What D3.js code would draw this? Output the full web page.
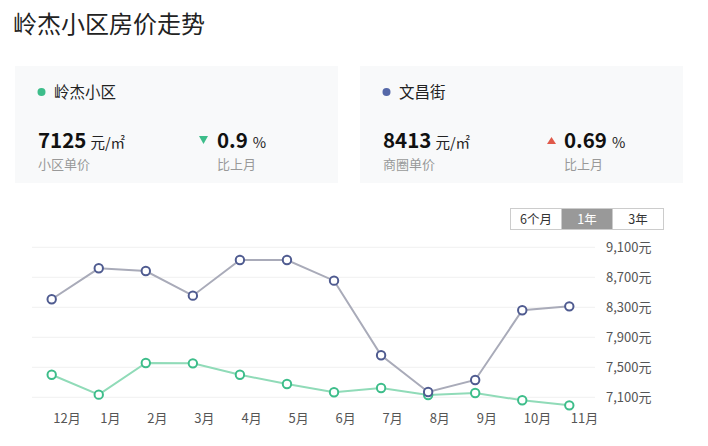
<!DOCTYPE html>
<html>
<head>
<meta charset="utf-8">
<script src="https://cdn.jsdelivr.net/npm/d3@7"></script>
<style>
  html, body { margin: 0; padding: 0; background: #fff; }
  svg { display: block; font-family: "Noto Sans CJK SC", "Noto Sans", sans-serif; }
</style>
</head>
<body>
<svg id="chart" width="708" height="446"></svg>
<script>
const months = ["12月", "1月", "2月", "3月", "4月", "5月", "6月", "7月", "8月", "9月", "10月", "11月"];
const wenchangValues = [8407, 8820, 8784, 8455, 8931, 8931, 8655, 7660, 7171, 7331, 8260, 8313];
const lingjieValues = [7401, 7135, 7557, 7553, 7401, 7277, 7167, 7224, 7131, 7157, 7060, 6993];
const yTicks = [7100, 7500, 7900, 8300, 8700, 9100];
const ranges = ["6个月", "1年", "3年"];

const svg = d3.select("#chart");

// Title
svg.append("text").attr("x", 13).attr("y", 33)
  .attr("font-size", 24).attr("fill", "#222").text("岭杰小区房价走势");

// Cards
const cards = [
  { x: 15, w: 323, dot: "#3dbd8a", name: "岭杰小区", price: "7125", sub: "小区单价", pct: "0.9", up: false },
  { x: 360, w: 323, dot: "#5568a8", name: "文昌街", price: "8413", sub: "商圈单价", pct: "0.69", up: true }
];
cards.forEach(c => {
  const g = svg.append("g").attr("transform", `translate(${c.x},66)`);
  g.append("rect").attr("width", c.w).attr("height", 117).attr("fill", "#f8f9fa");
  g.append("circle").attr("cx", 26.5).attr("cy", 26).attr("r", 4).attr("fill", c.dot);
  g.append("text").attr("x", 39).attr("y", 31.5).attr("font-size", 15.5).attr("fill", "#222").text(c.name);
  const t = g.append("text").attr("x", 23).attr("y", 81.5);
  t.append("tspan").attr("font-size", 20.5).attr("font-weight", "bold").attr("fill", "#111").text(c.price);
  t.append("tspan").attr("dx", 4).attr("font-size", 14.5).attr("fill", "#222").text("元/㎡");
  g.append("text").attr("x", 23).attr("y", 102.5).attr("font-size", 13).attr("fill", "#999").text(c.sub);
  const tx = c.up ? 187 : 184;
  if (c.up) {
    g.append("path").attr("d", `M${tx},78 L${tx + 9},78 L${tx + 4.5},71 Z`).attr("fill", "#e0594a");
  } else {
    g.append("path").attr("d", `M${tx},70 L${tx + 9},70 L${tx + 4.5},78 Z`).attr("fill", "#3dbd8a");
  }
  const p = g.append("text").attr("x", c.up ? 204 : 202).attr("y", 81.5);
  p.append("tspan").attr("font-size", 20.5).attr("font-weight", "bold").attr("fill", "#111").text(c.pct);
  p.append("tspan").attr("dx", 5).attr("font-size", 14.5).attr("fill", "#222").text("%");
  g.append("text").attr("x", c.up ? 204 : 202).attr("y", 102.5).attr("font-size", 13).attr("fill", "#999").text("比上月");
});

// Range buttons
const bx = 510, by = 208, bw = 51, bh = 21;
ranges.forEach((r, i) => {
  const active = r === "1年";
  svg.append("rect").attr("x", bx + i * bw + 0.5).attr("y", by + 0.5).attr("width", bw).attr("height", bh)
    .attr("fill", active ? "#999" : "#fff").attr("stroke", "#ccc").attr("stroke-width", 1);
  svg.append("text").attr("x", bx + i * bw + bw / 2 + 0.5).attr("y", by + bh / 2 + 5)
    .attr("text-anchor", "middle").attr("font-size", 12.5)
    .attr("fill", active ? "#fff" : "#333").text(r);
});

// Scales
const x = d3.scalePoint().domain(months).range([51.7, 569.3]);
const y = d3.scaleLinear().domain([7100, 9100]).range([397.3, 247.3]);

// Grid
svg.append("g").selectAll("line").data(yTicks).join("line")
  .attr("x1", 32).attr("x2", 595)
  .attr("y1", d => y(d)).attr("y2", d => y(d))
  .attr("stroke", "#f0f0f0").attr("stroke-width", 1);

// Y axis labels
const yAxis = d3.axisRight(y).tickValues(yTicks).tickSize(0).tickPadding(0)
  .tickFormat(d => d3.format(",")(d) + "元");
const yg = svg.append("g").attr("transform", "translate(606,0)").call(yAxis);
yg.select(".domain").remove();
yg.selectAll("text").attr("font-size", 13).attr("fill", "#555")
  .attr("font-family", "\"Noto Sans CJK SC\", sans-serif");

// X axis labels
const xAxis = d3.axisBottom(x).tickSize(0).tickPadding(0);
const xg = svg.append("g").attr("transform", "translate(0,414)").call(xAxis);
xg.select(".domain").remove();
xg.selectAll("text").attr("font-size", 13).attr("fill", "#555").attr("text-anchor", "start")
  .attr("dx", 1).attr("font-family", "\"Noto Sans CJK SC\", sans-serif");

// Lines
const line = d3.line().x((d, i) => x(months[i])).y(d => y(d));
const series = [
  { values: lingjieValues, line: "#90dbb8", marker: "#3dbd8a" },
  { values: wenchangValues, line: "#a9abb9", marker: "#4f5b90" }
];
series.forEach(s => {
  svg.append("path").datum(s.values).attr("d", line)
    .attr("fill", "none").attr("stroke", s.line).attr("stroke-width", 2);
  svg.append("g").selectAll("circle").data(s.values).join("circle")
    .attr("cx", (d, i) => x(months[i])).attr("cy", d => y(d)).attr("r", 4.2)
    .attr("fill", "#fff").attr("stroke", s.marker).attr("stroke-width", 2);
});
</script>
</body>
</html>
